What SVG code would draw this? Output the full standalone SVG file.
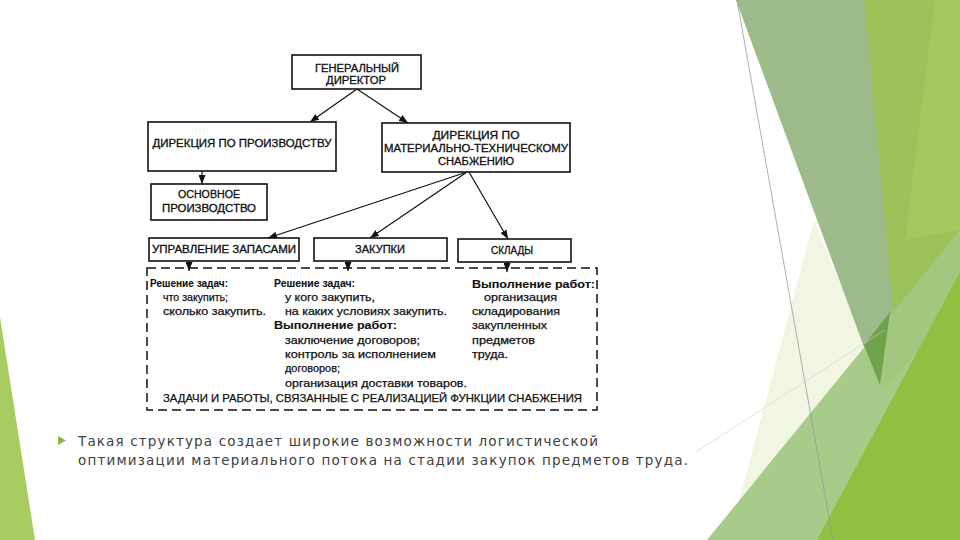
<svg xmlns="http://www.w3.org/2000/svg" width="960" height="540" viewBox="0 0 960 540">
<style>
.box{fill:#fff;stroke:#111;stroke-width:1.6}
.bt{font-family:"Liberation Sans",Arial,sans-serif;font-size:10px;fill:#111;stroke:#111;stroke-width:0.3;text-anchor:middle}
.t{font-family:"Liberation Sans",Arial,sans-serif;font-size:10.5px;fill:#111;stroke:#111;stroke-width:0.25}
.b{font-weight:bold;stroke-width:0.1}
.con line{stroke:#111;stroke-width:1.2;marker-end:url(#ah)}
.para{font-family:"DejaVu Sans","Open Sans",sans-serif;font-size:13.5px;fill:#404040}
</style>
<defs>
<marker id="ah" viewBox="0 0 9 7" refX="9" refY="3.5" markerWidth="9" markerHeight="7" markerUnits="userSpaceOnUse" orient="auto">
<path d="M0,0 L9,3.5 L0,7 z" fill="#111"/>
</marker>
</defs>
<rect width="960" height="540" fill="#fff"/>
<g id="background">
<polygon points="0,317 35,540 0,540" fill="#a9cc62"/>
<polygon points="814,220 866,347 738,505" fill="#f1f6e3"/>
<polygon points="862,0 960,0 960,300 885,390 878,383" fill="#9ec25a"/>
<polygon points="935,0 960,0 960,230 905,240" fill="#a6cb5f" opacity="0.8"/>
<polygon points="736,0 864,0 893,305 878,385" fill="#9dbb8a"/>
<polygon points="707,540 960,230 960,540" fill="#a2c882" opacity="0.95"/>
<polygon points="817,540 960,272 960,540" fill="#8dbf3a" opacity="0.9"/>
<polygon points="864,345 890,312 880,385" fill="#6fa34a"/>
<line x1="737" y1="0" x2="833" y2="540" stroke="#9a9a9a" stroke-width="0.8"/>
<line x1="696" y1="452" x2="885" y2="330" stroke="#cfcfcf" stroke-width="0.6"/>
</g>
<g id="connectors" class="con">
<line x1="357" y1="89" x2="310" y2="122"/>
<line x1="357" y1="89" x2="408" y2="123"/>
<line x1="202" y1="171" x2="202" y2="184"/>
<line x1="467" y1="172" x2="268" y2="238"/>
<line x1="467" y1="172" x2="370" y2="238"/>
<line x1="469" y1="172" x2="508" y2="239"/>
<line x1="189" y1="261" x2="189" y2="271"/>
<line x1="348" y1="261" x2="348" y2="271"/>
<line x1="507" y1="262" x2="507" y2="272"/>
</g>
<g id="gen-director">
<rect class="box" x="292" y="55" width="129" height="34"/>
<text class="bt" x="357" y="72" textLength="84" lengthAdjust="spacingAndGlyphs">ГЕНЕРАЛЬНЫЙ</text>
<text class="bt" x="356" y="84" textLength="60" lengthAdjust="spacingAndGlyphs">ДИРЕКТОР</text>
</g>
<g id="dir-production">
<rect class="box" x="148" y="122" width="188" height="49"/>
<text class="bt" x="242" y="147" textLength="179" lengthAdjust="spacingAndGlyphs">ДИРЕКЦИЯ ПО ПРОИЗВОДСТВУ</text>
</g>
<g id="dir-supply">
<rect class="box" x="382" y="123" width="188" height="49"/>
<text class="bt" x="476" y="139" textLength="87" lengthAdjust="spacingAndGlyphs">ДИРЕКЦИЯ ПО</text>
<text class="bt" x="476" y="152" textLength="184" lengthAdjust="spacingAndGlyphs">МАТЕРИАЛЬНО-ТЕХНИЧЕСКОМУ</text>
<text class="bt" x="476" y="165" textLength="76" lengthAdjust="spacingAndGlyphs">СНАБЖЕНИЮ</text>
</g>
<g id="main-production">
<rect class="box" x="151" y="184" width="116" height="36"/>
<text class="bt" x="209" y="198" textLength="62" lengthAdjust="spacingAndGlyphs">ОСНОВНОЕ</text>
<text class="bt" x="209" y="212" textLength="94" lengthAdjust="spacingAndGlyphs">ПРОИЗВОДСТВО</text>
</g>
<g id="inventory">
<rect class="box" x="149" y="238" width="150" height="23"/>
<text class="bt" x="224" y="253" textLength="144" lengthAdjust="spacingAndGlyphs">УПРАВЛЕНИЕ ЗАПАСАМИ</text>
</g>
<g id="purchasing">
<rect class="box" x="314" y="238" width="133" height="23"/>
<text class="bt" x="380" y="253" textLength="50" lengthAdjust="spacingAndGlyphs">ЗАКУПКИ</text>
</g>
<g id="warehouses">
<rect class="box" x="458" y="239" width="113" height="23"/>
<text class="bt" x="512" y="254" textLength="42" lengthAdjust="spacingAndGlyphs">СКЛАДЫ</text>
</g>
<g id="tasks">
<rect x="147" y="268" width="450" height="142" fill="none" stroke="#111" stroke-width="1.5" stroke-dasharray="9 5"/>
<text class="t b" x="150" y="287" textLength="78" lengthAdjust="spacingAndGlyphs">Решение задач:</text>
<text class="t" x="163" y="301" textLength="65" lengthAdjust="spacingAndGlyphs">что закупить;</text>
<text class="t" x="163" y="315" textLength="103" lengthAdjust="spacingAndGlyphs">сколько закупить.</text>
<text class="t b" x="274" y="287" textLength="81" lengthAdjust="spacingAndGlyphs">Решение задач:</text>
<text class="t" x="285" y="301" textLength="90" lengthAdjust="spacingAndGlyphs">у кого закупить,</text>
<text class="t" x="285" y="315" textLength="162" lengthAdjust="spacingAndGlyphs">на каких условиях закупить.</text>
<text class="t b" x="274" y="329" textLength="123" lengthAdjust="spacingAndGlyphs">Выполнение работ:</text>
<text class="t" x="285" y="344" textLength="135" lengthAdjust="spacingAndGlyphs">заключение договоров;</text>
<text class="t" x="285" y="358" textLength="151" lengthAdjust="spacingAndGlyphs">контроль за исполнением</text>
<text class="t" x="285" y="372" textLength="55" lengthAdjust="spacingAndGlyphs">договоров;</text>
<text class="t" x="285" y="387" textLength="182" lengthAdjust="spacingAndGlyphs">организация доставки товаров.</text>
<text class="t b" x="472" y="288" textLength="123" lengthAdjust="spacingAndGlyphs">Выполнение работ:</text>
<text class="t" x="484" y="301" textLength="73" lengthAdjust="spacingAndGlyphs">организация</text>
<text class="t" x="472" y="315" textLength="88" lengthAdjust="spacingAndGlyphs">складирования</text>
<text class="t" x="472" y="329" textLength="75" lengthAdjust="spacingAndGlyphs">закупленных</text>
<text class="t" x="472" y="344" textLength="63" lengthAdjust="spacingAndGlyphs">предметов</text>
<text class="t" x="472" y="358" textLength="36" lengthAdjust="spacingAndGlyphs">труда.</text>
<text class="t" x="163" y="402" textLength="419" lengthAdjust="spacingAndGlyphs">ЗАДАЧИ И РАБОТЫ, СВЯЗАННЫЕ С РЕАЛИЗАЦИЕЙ ФУНКЦИИ СНАБЖЕНИЯ</text>
</g>
<g id="paragraph">
<polygon points="58,436 66,440.5 58,445" fill="#8db83a"/>
<text class="para" x="78" y="446" textLength="520" lengthAdjust="spacing">Такая структура создает широкие возможности логистической</text>
<text class="para" x="78" y="465" textLength="610" lengthAdjust="spacing">оптимизации материального потока на стадии закупок предметов труда.</text>
</g>
</svg>
